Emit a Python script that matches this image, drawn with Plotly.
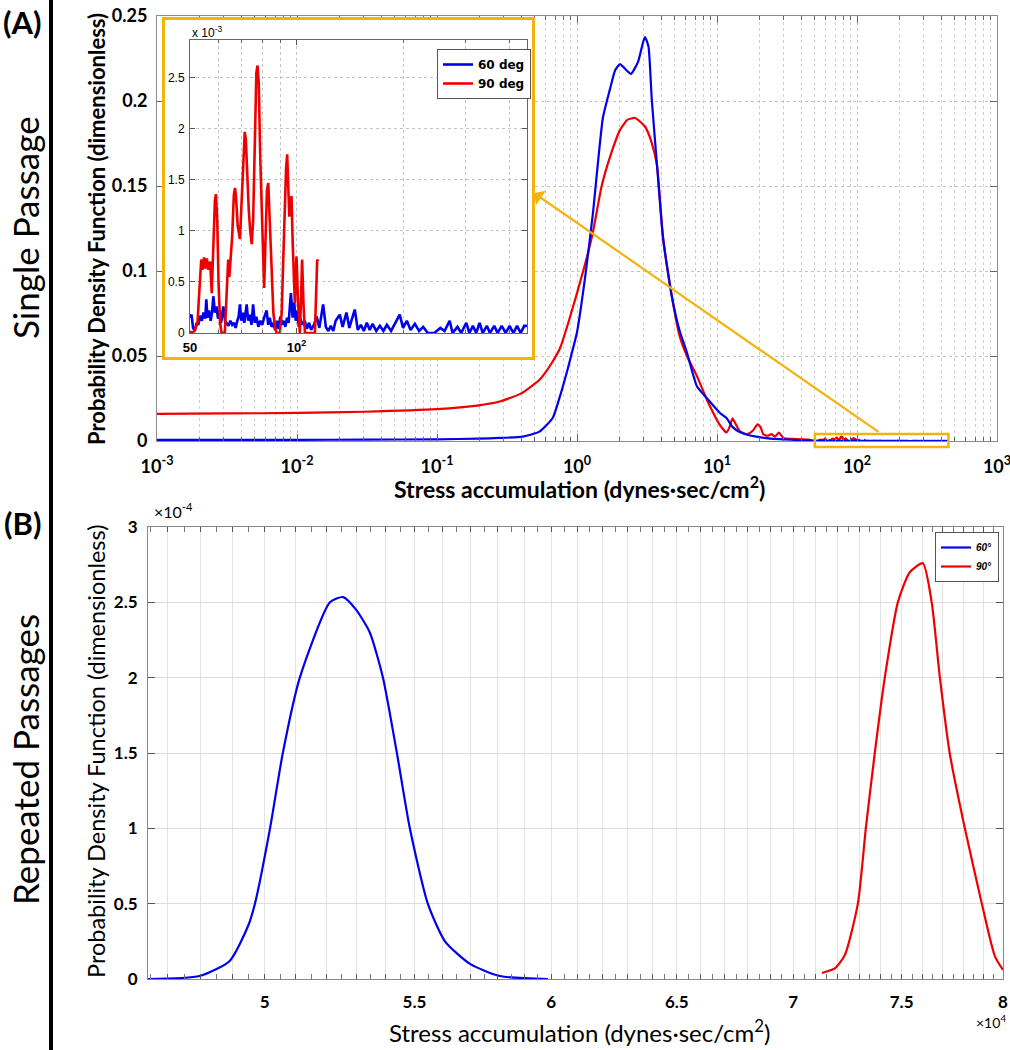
import math
import plotly.graph_objects as go

# ---------------- data ----------------
# Panel A main curves (single passage), x = stress accumulation, y = PDF
a_blue_x = [0.001, 0.003, 0.01, 0.03, 0.1, 0.2, 0.28, 0.41, 0.54, 0.67, 0.76, 0.85, 0.92, 1.0,
            1.15, 1.3, 1.53, 1.72, 1.87, 2.03, 2.2, 2.43, 2.73, 2.95, 3.06, 3.24, 3.42, 3.73,
            4.11, 4.76, 5.4, 6.1, 7.2, 8.5, 10.5, 11.7, 12.9, 14.5, 16.4, 19.5, 24, 30, 38, 45]
a_blue_y = [0.0007, 0.0007, 0.0007, 0.0008, 0.001, 0.0014, 0.0018, 0.0026, 0.0055, 0.0135, 0.027, 0.041, 0.052, 0.064,
            0.098, 0.134, 0.190, 0.207, 0.218, 0.2217, 0.219, 0.216, 0.223, 0.234, 0.2376, 0.232, 0.201, 0.162,
            0.120, 0.085, 0.065, 0.052, 0.032, 0.025, 0.0165, 0.0135, 0.0083, 0.0053, 0.0037, 0.0024, 0.0014, 0.001, 0.0005, 0.0003]

a_red_x = [0.001, 0.003, 0.01, 0.03, 0.1, 0.2, 0.28, 0.4, 0.54, 0.65, 0.76, 0.87, 1.0, 1.15, 1.3,
           1.5, 1.72, 2.03, 2.3, 2.6, 3.06, 3.4, 3.73, 4.11, 4.76, 5.4, 6.1, 7.2, 8.5, 10.5, 11.7,
           12.4, 12.9, 13.6, 14.5, 16.4, 18.0, 19.5, 20.5, 21.4, 23.0, 24.5, 26.0, 27.6, 30, 35, 40, 45]
a_red_y = [0.0160, 0.0162, 0.0165, 0.0172, 0.0187, 0.0210, 0.0232, 0.028, 0.036, 0.045, 0.055, 0.070, 0.087, 0.105, 0.123,
           0.150, 0.167, 0.183, 0.189, 0.190, 0.185, 0.176, 0.162, 0.120, 0.085, 0.062, 0.050, 0.038, 0.024, 0.0094, 0.005,
           0.009, 0.0133, 0.010, 0.0059, 0.004, 0.006, 0.0098, 0.008, 0.004, 0.0031, 0.004, 0.0025, 0.005, 0.0016, 0.0012, 0.001, 0.0008]

# Inset (zoom of the 50-450 tail), PDF in units of 1e-3
inset_red_x = [50.0, 50.5, 51.5, 52.5, 53.0, 53.4, 53.8, 54.3, 54.8, 55.3, 55.8, 56.3, 57.0, 57.6,
               58.3, 58.8, 59.2, 59.7, 60.2, 60.8, 61.4, 62.7, 63.3, 64.1, 64.6, 65.1, 65.8, 66.5,
               67.0, 67.4, 68.2, 69.2, 70.0, 70.8, 71.4, 71.9, 72.6, 73.3, 74.0, 74.7, 75.4, 76.2,
               77.0, 77.6, 78.2, 79.0, 79.8, 80.4, 81.0, 81.7, 82.5, 83.2, 84.0, 85.0, 86.0, 87.0,
               87.8, 89.7, 90.8, 91.7, 92.6, 93.4, 94.1, 94.7, 95.4, 96.1, 96.8, 97.5, 98.2, 98.9,
               99.5, 100.0, 101.0, 102.2, 102.9, 103.7, 104.6, 105.6, 112.7, 113.5, 114.4, 115.0]
inset_red_y = [0.02, 0.0, 0.02, 0.1, 0.35, 0.55, 0.72, 0.62, 0.74, 0.63, 0.73, 0.62, 0.70, 0.39,
               0.9, 1.3, 1.36, 1.1, 0.5, 0.1, 0.0, 0.0, 0.3, 0.72, 0.55, 0.7, 0.95, 1.35,
               1.42, 1.35, 1.05, 0.92, 1.3, 1.75, 1.97, 1.9, 1.5, 1.2, 1.0, 0.87, 1.1, 1.9,
               2.55, 2.62, 2.45, 1.7, 1.1, 0.6, 0.44, 0.9, 1.4, 1.47, 1.1, 0.5, 0.2, 0.05,
               0.0, 0.0, 0.2, 0.7, 1.3, 1.6, 1.75, 1.4, 1.14, 1.3, 1.34, 0.9, 0.45, 0.29,
               0.6, 0.75, 0.3, 0.0, 0.3, 0.72, 0.3, 0.0, 0.0, 0.4, 0.72, 0.7]

inset_blue_x = [50.0, 50.5, 51.0, 51.6, 52.2, 52.8, 53.4, 54.0, 54.6, 55.2, 55.6, 56.0, 56.6, 57.2,
                57.7, 58.2, 58.8, 59.4, 60.0, 60.6, 61.2, 62.1, 62.8, 63.5, 64.2, 65.0, 65.8, 66.5,
                67.3, 68.0, 68.6, 69.2, 69.8, 70.5, 71.2, 72.3, 73.0, 73.8, 74.6, 75.4, 76.2, 77.0,
                78.0, 79.0, 80.0, 81.0, 82.3, 83.2, 84.0, 85.0, 86.0, 87.0, 88.0, 89.0, 90.0, 91.0,
                92.0, 93.0, 94.0, 95.0, 96.4, 97.5, 98.5, 99.5, 100.5, 101.5, 102.5, 104.0, 105.5, 107.0,
                108.5, 110.0, 112.0, 114.0, 116.0, 118.9, 121.0, 123.0, 125.0, 127.0, 129.0, 132.5, 135.0, 138.4,
                141.0, 143.5, 146.1, 149.0, 152.0, 155.0, 158.0, 161.0, 164.0, 168.0, 172.0, 176.0, 180.0, 185.0,
                190.0, 195.7, 200.0, 205.0, 210.0, 216.0, 222.0, 228.0, 235.0, 245.0, 255.0, 262.0, 270.9, 276.0,
                285.0, 292.0, 301.8, 308.0, 315.0, 322.0, 329.0, 336.0, 345.0, 352.0, 362.0, 370.0, 380.0, 390.0,
                400.0, 410.0, 420.0, 430.0, 440.0, 448.0]
inset_blue_y = [0.15, 0.18, 0.05, 0.02, 0.1, 0.08, 0.17, 0.12, 0.2, 0.14, 0.33, 0.15, 0.22, 0.12,
                0.2, 0.36, 0.2, 0.26, 0.14, 0.22, 0.1, 0.26, 0.12, 0.1, 0.07, 0.12, 0.08, 0.1,
                0.05, 0.12, 0.16, 0.28, 0.12, 0.2, 0.1, 0.28, 0.12, 0.18, 0.08, 0.28, 0.1, 0.16,
                0.06, 0.12, 0.08, 0.15, 0.22, 0.08, 0.15, 0.06, 0.1, 0.03, 0.12, 0.04, 0.16, 0.08,
                0.12, 0.06, 0.15, 0.1, 0.39, 0.15, 0.3, 0.12, 0.22, 0.06, 0.14, 0.08, 0.12, 0.04,
                0.1, 0.03, 0.08, 0.16, 0.05, 0.28, 0.06, 0.02, 0.07, 0.02, 0.12, 0.18, 0.06, 0.2,
                0.05, 0.14, 0.23, 0.03, 0.08, 0.02, 0.1, 0.03, 0.09, 0.02, 0.07, 0.02, 0.08, 0.02,
                0.1, 0.18, 0.05, 0.12, 0.03, 0.09, 0.02, 0.06, 0.0, 0.0, 0.05, 0.02, 0.12, 0.0,
                0.06, 0.0, 0.1, 0.0, 0.07, 0.0, 0.1, 0.0, 0.07, 0.0, 0.07, 0.0, 0.07, 0.0,
                0.07, 0.0, 0.07, 0.0, 0.07, 0.07]

# Panel B (repeated passages), PDF in units of 1e-4
b_blue_x = [46420, 47970, 48900, 49470, 49690, 50170, 50580, 51130, 52120, 52560, 53000, 53460,
            53910, 54390, 54840, 55470, 56080, 56980, 58080, 59880]
b_blue_y = [0.0, 0.02, 0.12, 0.35, 0.5, 1.0, 1.5, 2.0, 2.5, 2.535, 2.45, 2.3,
            2.0, 1.5, 1.0, 0.5, 0.25, 0.1, 0.02, 0.0]
b_red_x = [71290, 71880, 72340, 72940, 73310, 73730, 74200, 74820, 75390, 76020, 76450, 76850,
           77330, 78080, 78930, 79590, 80000]
b_red_y = [0.04, 0.07, 0.16, 0.5, 1.0, 1.5, 2.0, 2.5, 2.7, 2.76, 2.5, 2.0,
           1.5, 1.0, 0.5, 0.15, 0.06]

a_xticks = [1e-3, 1e-2, 1e-1, 1e0, 1e1, 1e2, 1e3]
a_xtick_text = ["10<sup>-3</sup>", "10<sup>-2</sup>", "10<sup>-1</sup>", "10<sup>0</sup>",
                "10<sup>1</sup>", "10<sup>2</sup>", "10<sup>3</sup>"]
a_yticks = [0, 0.05, 0.1, 0.15, 0.2, 0.25]
a_ytick_text = ["0", "0.05", "0.1", "0.15", "0.2", "0.25"]
inset_xticks = [50, 100]
inset_xtick_text = ["50", "10<sup>2</sup>"]
inset_yticks = [0, 0.5, 1, 1.5, 2, 2.5]
inset_ytick_text = ["0", "0.5", "1", "1.5", "2", "2.5"]
b_labelled = {50000: "5", 55000: "5.5", 60000: "6", 65000: "6.5", 70000: "7", 75000: "7.5", 80000: "8"}
b_yticks = [0, 0.5, 1, 1.5, 2, 2.5, 3]
b_ytick_text = ["0", "0.5", "1", "1.5", "2", "2.5", "3"]

# ---------------- layout helpers (pixel -> paper) ----------------
W, H = 1010, 1050
def PX(x):
    return x / W
def PY(y):
    return 1 - y / H

BLUE = "#0000EE"
RED = "#EE0000"
GOLD = "#F4B30C"
FONT = "Lato"

fig = go.Figure()

# Panel A main
fig.add_trace(go.Scatter(x=a_red_x + inset_red_x, y=a_red_y + [v * 1e-3 for v in inset_red_y],
                         mode="lines", line=dict(color=RED, width=2.2, shape="spline", smoothing=0.5),
                         showlegend=False, xaxis="x", yaxis="y"))
fig.add_trace(go.Scatter(x=a_blue_x + inset_blue_x, y=a_blue_y + [v * 1e-3 for v in inset_blue_y],
                         mode="lines", line=dict(color=BLUE, width=2.2, shape="spline", smoothing=0.5),
                         showlegend=False, xaxis="x", yaxis="y"))

# Panel B
fig.add_trace(go.Scatter(x=b_blue_x, y=b_blue_y, mode="lines", name="60°",
                         line=dict(color=BLUE, width=2.2, shape="spline", smoothing=0.6),
                         xaxis="x2", yaxis="y2", legend="legend2"))
fig.add_trace(go.Scatter(x=b_red_x, y=b_red_y, mode="lines", name="90°",
                         line=dict(color=RED, width=2.2, shape="spline", smoothing=0.6),
                         xaxis="x2", yaxis="y2", legend="legend2"))

# inset frame (white background with gold border)
fig.add_trace(go.Scatter(x=[], y=[], xaxis="x3", yaxis="y3", showlegend=False))

# inset
fig.add_trace(go.Scatter(x=inset_blue_x, y=inset_blue_y, mode="lines", name="60 deg",
                         line=dict(color=BLUE, width=2.6), xaxis="x4", yaxis="y4", legend="legend"))
fig.add_trace(go.Scatter(x=inset_red_x, y=inset_red_y, mode="lines", name="90 deg",
                         line=dict(color=RED, width=2.6), xaxis="x4", yaxis="y4", legend="legend"))

grid_dot = dict(showgrid=True, gridcolor="#c4c4c4", griddash="dot", gridwidth=1)

a_minor = [m * 10 ** e for e in range(-3, 3) for m in range(2, 10)]
inset_minor = [60, 70, 80, 90, 200, 300, 400]
b_major = list(range(47000, 80001, 1000))
b_major_text = [b_labelled.get(v, "") for v in b_major]
b_minor = list(range(46500, 80000, 1000))

fig.update_layout(
    width=W, height=H,
    margin=dict(l=0, r=0, t=0, b=0, autoexpand=False),
    paper_bgcolor="white", plot_bgcolor="white",
    font=dict(family=FONT, color="black"),
    xaxis=dict(type="log", range=[-3, 3], domain=[PX(157), PX(997)], anchor="y",
               tickmode="array", tickvals=a_xticks, ticktext=a_xtick_text,
               tickfont=dict(size=18, weight="bold", family=FONT), ticklabeloverflow="allow",
               ticks="inside", ticklen=7, tickcolor="#666", showline=True, linecolor="#8c8c8c",
               linewidth=1, mirror="ticks", zeroline=False, ticklabelstandoff=9,
               minor=dict(tickmode="array", tickvals=a_minor, ticks="inside", ticklen=4,
                          tickcolor="#666", showgrid=True, gridcolor="#d0d0d0", griddash="dot"),
               **grid_dot),
    yaxis=dict(range=[0, 0.25], domain=[PY(441), PY(16)], anchor="x",
               tickmode="array", tickvals=a_yticks, ticktext=a_ytick_text,
               tickfont=dict(size=18, weight="bold", family=FONT),
               ticks="inside", ticklen=7, tickcolor="#666", showline=True, linecolor="#8c8c8c",
               linewidth=1, mirror="ticks", zeroline=False, ticklabelstandoff=5,
               **grid_dot),
    xaxis2=dict(type="log", range=[math.log10(46420), math.log10(80000)],
                domain=[PX(148), PX(1003)], anchor="y2",
                tickmode="array", tickvals=b_major, ticktext=b_major_text,
                tickfont=dict(size=17, weight="bold", family=FONT), ticklabeloverflow="allow",
                ticks="inside", ticklen=5, tickcolor="#555", showline=True, linecolor="#888",
                linewidth=1, mirror="ticks", zeroline=False, ticklabelstandoff=8,
                showgrid=True, gridcolor="#e3e3e3",
                minor=dict(tickmode="array", tickvals=b_minor, ticks="inside", ticklen=5,
                           tickcolor="#777", showgrid=False)),
    yaxis2=dict(range=[0, 3], domain=[PY(979), PY(527)], anchor="x2",
                tickmode="array", tickvals=b_yticks, ticktext=b_ytick_text,
                tickfont=dict(size=17, weight="bold", family=FONT),
                ticks="inside", ticklen=7, tickcolor="#555", showline=True, linecolor="#888",
                linewidth=1, mirror="ticks", zeroline=False, ticklabelstandoff=6,
                showgrid=True, gridcolor="#dcdcdc"),
    xaxis3=dict(range=[0, 1], domain=[PX(165), PX(532)], anchor="y3", showgrid=False,
                zeroline=False, showticklabels=False, ticks="", showline=True,
                linecolor=GOLD, linewidth=3, mirror=True),
    yaxis3=dict(range=[0, 1], domain=[PY(357), PY(20)], anchor="x3", showgrid=False,
                zeroline=False, showticklabels=False, ticks="", showline=True,
                linecolor=GOLD, linewidth=3, mirror=True),
    xaxis4=dict(type="log", range=[math.log10(50), math.log10(448)],
                domain=[PX(190), PX(527)], anchor="y4",
                tickmode="array", tickvals=inset_xticks, ticktext=inset_xtick_text,
                tickfont=dict(size=13, family="Liberation Sans", weight="bold"),
                ticks="inside", ticklen=5, tickcolor="#555", showline=True, linecolor="#666",
                linewidth=1, mirror="ticks", zeroline=False, ticklabelstandoff=2,
                minor=dict(tickmode="array", tickvals=inset_minor, ticks="inside", ticklen=3,
                           tickcolor="#666", showgrid=True, gridcolor="#c4c4c4", griddash="dot"),
                **grid_dot),
    yaxis4=dict(range=[0, 2.87], domain=[PY(333), PY(40)], anchor="x4",
                tickmode="array", tickvals=inset_yticks, ticktext=inset_ytick_text,
                tickfont=dict(size=12, family="Liberation Sans"),
                ticks="inside", ticklen=5, tickcolor="#555", showline=True, linecolor="#666",
                linewidth=1, mirror="ticks", zeroline=False, ticklabelstandoff=2,
                **grid_dot),
    legend=dict(x=PX(437), y=PY(49), xanchor="left", yanchor="top",
                bgcolor="white", bordercolor="#555", borderwidth=1,
                font=dict(size=12, family="DejaVu Sans", weight="bold"),
                itemwidth=30, tracegroupgap=0),
    legend2=dict(x=PX(999), y=PY(532), xanchor="right", yanchor="top",
                 bgcolor="white", bordercolor="#555", borderwidth=1,
                 font=dict(size=10, family="Liberation Sans", weight="bold", style="italic"),
                 itemwidth=30, tracegroupgap=0),
)

# yellow zoom box on main panel and arrow to the inset
fig.add_shape(type="rect", xref="x", yref="paper", x0=50, x1=450, y0=PY(447), y1=PY(434),
              line=dict(color=GOLD, width=2.5), fillcolor="rgba(0,0,0,0)", layer="above")
fig.add_annotation(xref="paper", yref="paper", x=PX(534), y=PY(193), ax=346, ay=240,
                   axref="pixel", ayref="pixel", text="", showarrow=True,
                   arrowhead=1, arrowsize=1.3, arrowwidth=2.2, arrowcolor=GOLD)

def T(text, x, y, size, bold=False, angle=0, xanchor="center", yanchor="middle", family=FONT):
    fig.add_annotation(xref="paper", yref="paper", x=PX(x), y=PY(y), text=text, showarrow=False,
                       textangle=angle, xanchor=xanchor, yanchor=yanchor,
                       font=dict(size=size, family=family, color="black",
                                 weight="bold" if bold else "normal"))

T("(A)", 22, 22, 31, bold=True)
T("(B)", 22, 523, 31, bold=True)
T("Single Passage", 25, 228, 35, angle=-90)
T("Repeated Passages", 25, 760, 35, angle=-90)
T("Probability Density Function (dimensionless)", 96, 229, 22, bold=True, angle=-90)
T("Probability Density Function (dimensionless)", 96, 752, 23.5, angle=-90)
T("Stress accumulation (dynes·sec/cm<sup>2</sup>)", 579, 488, 23, bold=True)
T("Stress accumulation (dynes·sec/cm<sup>2</sup>)", 579, 1031, 24)
T("x 10<sup>-3</sup>", 190, 32, 12, xanchor="left", family="Liberation Sans")
T("×10<sup>-4</sup>", 152, 510, 16, xanchor="left")
T("×10<sup>4</sup>", 1008, 1021, 14, xanchor="right")

# vertical separator line on the left
fig.add_shape(type="line", xref="paper", yref="paper", x0=PX(51), x1=PX(51), y0=0, y1=1,
              line=dict(color="black", width=4))

# the page's default body margin would shift the fixed-size figure; remove it
fig.write_html("out.html", config={"displayModeBar": False},
               post_script="document.body.style.margin='0';document.body.style.overflow='hidden';")
